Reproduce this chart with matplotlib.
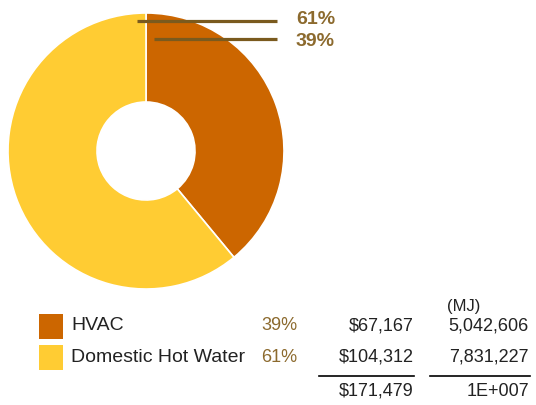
import matplotlib
matplotlib.use("Agg")
import matplotlib.pyplot as plt
from matplotlib.patches import Rectangle
import math

categories = ["HVAC", "Domestic Hot Water"]
shares = [39, 61]
costs = [67167, 104312]
energy_mj = [5042606, 7831227]
colors = ["#CC6600", "#FFCC33"]

W, H = 536, 405
plt.rcParams["font.family"] = ["Liberation Sans", "DejaVu Sans"]


def Y(py):
    # pixel row (from top) -> data y
    return H - py


def sci_total(v):
    e = int(math.floor(math.log10(v)))
    m = round(v / 10 ** e)
    return "%dE+%03d" % (m, e)


fig = plt.figure(figsize=(W / 100, H / 100), dpi=100)
ax = fig.add_axes([0, 0, 1, 1])

cx, cy, r, hole = 146, 151, 138, 49
ax.pie(shares, colors=colors, startangle=90, counterclock=False,
       center=(cx, Y(cy)), radius=r,
       wedgeprops=dict(width=r - hole, edgecolor="white", linewidth=1.2))

# leader lines + percent labels (largest first at top)
lead_col = "#7A5A1E"
lab_col = "#8C6A2E"
leaders = [(1, 137, 21, 19), (0, 154, 39, 42)]
for idx, x0, ly, ty in leaders:
    ax.plot([x0, 277], [Y(ly), Y(ly)], color=lead_col, lw=2.3,
            solid_capstyle="butt")
    ax.text(296, Y(ty), "%d%%" % shares[idx], color=lab_col, fontsize=14,
            fontweight="bold", ha="left", va="center")

# legend table
fs = 13
txt = "#222222"
rows = [326, 357]
for i, cat in enumerate(categories):
    ry = rows[i]
    ax.add_patch(Rectangle((39, Y(ry + 12.5)), 24, 25, facecolor=colors[i],
                           edgecolor="none"))
    ax.text(71, Y(ry), cat, fontsize=14, color=txt, ha="left", va="center")
    ax.text(261, Y(ry), "%d%%" % shares[i], fontsize=fs, color=lab_col,
            ha="left", va="center")
    ax.text(414, Y(ry), "${:,}".format(costs[i]), fontsize=fs, color=txt,
            ha="right", va="center")
    ax.text(529, Y(ry), "{:,}".format(energy_mj[i]), fontsize=fs, color=txt,
            ha="right", va="center")

ax.text(447, Y(307), "(MJ)", fontsize=fs - 1, color=txt, ha="left",
        va="center")
ax.plot([319, 414], [Y(376), Y(376)], color="black", lw=1.2)
ax.plot([430, 530], [Y(376), Y(376)], color="black", lw=1.2)
ax.text(414, Y(391), "${:,}".format(sum(costs)), fontsize=fs, color=txt,
        ha="right", va="center")
ax.text(529, Y(391), sci_total(sum(energy_mj)), fontsize=fs, color=txt,
        ha="right", va="center")

ax.set_xlim(0, W)
ax.set_ylim(0, H)
ax.set_aspect("auto")
ax.axis("off")
fig.savefig("out.png", dpi=100)
